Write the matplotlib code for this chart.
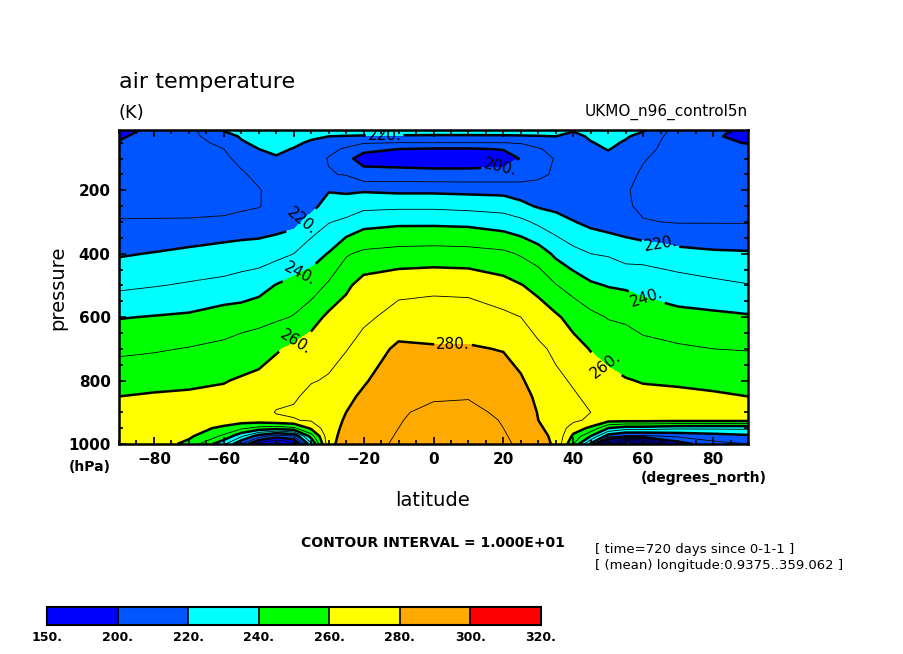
import numpy as np
import matplotlib
matplotlib.use('Agg')
import matplotlib.pyplot as plt

# zonal mean air temperature (K)
lats = [-90, -80, -70, -60, -55, -50, -45, -40, -35, -30, -25, -20, -10, 0,
        10, 20, 25, 30, 35, 40, 45, 50, 55, 60, 70, 80, 90]
plev = [10, 30, 50, 70, 100, 150, 200, 250, 300, 400, 500, 600, 700, 800,
        850, 900, 925, 950, 975, 1000]

# one column per latitude, top (10 hPa) to bottom (1000 hPa)
temp_cols = [
    [197, 199, 200.5, 203, 205, 206, 207, 208, 210.5, 219, 228, 239.5, 248, 256, 260, 263, 264, 265, 266, 267],  # -90
    [202, 203, 204, 205, 206, 207, 208, 209, 210.3, 220.5, 229.5, 240.5, 249, 257, 261, 264, 265, 266, 266, 266],  # -80
    [207, 207, 207, 207, 207, 207, 207.5, 208.5, 210.5, 222.5, 231, 241.5, 250.5, 258, 261.5, 264, 265, 264, 262, 257],  # -70
    [221, 216, 212, 210, 208.5, 208, 208, 208.5, 211, 225, 232, 245, 252, 259.5, 262, 264, 265, 258, 248, 232],  # -60
    [223, 221, 219, 215, 212, 209, 208.5, 209, 212, 226, 233, 246, 254, 261, 263.5, 265, 265, 252, 232, 210],  # -55
    [226, 224, 222, 220, 216, 212, 209.5, 209.5, 214.5, 225, 236, 247, 255.5, 262.5, 264.5, 266, 265.5, 247, 215, 185],  # -50
    [228, 226, 224, 222, 219, 215, 213, 213.5, 215.5, 227, 240.5, 248.5, 259, 265, 267.5, 270.5, 268, 245, 205, 175],  # -45
    [228, 225, 222, 219.5, 217, 214, 212.5, 213, 217, 230, 244, 250.5, 262, 268, 269, 271, 269.5, 248, 210, 185],  # -40
    [227, 222, 218.5, 216.5, 214, 213, 213.5, 217, 224, 236, 245, 256, 265, 269.5, 272, 274, 271, 262, 245, 228],  # -35
    [226, 220, 215, 212, 209.5, 210.5, 219.3, 224.5, 229.5, 240.5, 251.5, 262, 267.5, 270.7, 273.5, 275.5, 276, 276.5, 277, 277.5],  # -30
    [225, 219.5, 213, 209, 202, 209.5, 218.5, 225, 232, 249, 258, 265, 269.5, 275.5, 278, 280, 281, 282, 283, 284],  # -25
    [226, 219, 211, 202, 197, 203, 219, 227.5, 236.5, 252, 264, 268, 274, 279, 281.5, 284, 285, 286, 287, 287.5],  # -20
    [227, 218.5, 210, 200, 195.5, 203.5, 218, 228, 238, 253.5, 267, 273.5, 282, 286, 288, 289, 289.5, 290, 290.5, 291],  # -10
    [228, 218, 210, 199, 195, 203, 218, 228, 238, 254, 268, 274, 281, 286, 289, 292, 293, 294, 295, 296],  # 0
    [228, 218, 210, 199, 195, 203, 217.5, 227, 237.5, 253.5, 267.5, 274, 281, 286.5, 289.5, 292, 293, 293.5, 294, 294.5],  # 10
    [227, 218.5, 210, 200.5, 196, 203.5, 217, 226, 235, 252, 263.5, 272, 279.5, 284.5, 287, 288.5, 289.5, 290, 290.5, 291],  # 20
    [226, 219, 211, 204, 200.5, 205, 215.5, 222.5, 232.5, 249, 260.5, 270, 276.5, 281, 283.5, 285.5, 286.5, 287.5, 288.5, 289],  # 25
    [225, 219.5, 214, 209, 207, 208.5, 213, 219, 228, 245, 257, 265, 272, 276, 278, 279.5, 280, 281, 282, 282.5],  # 30
    [224, 220, 216.5, 213.5, 210.5, 211, 213, 217.5, 224, 238, 250.5, 261.5, 268, 272, 273.5, 275, 277, 277.5, 278.5, 279],  # 35
    [221, 217, 214.5, 213, 211.5, 211, 212, 215, 220.5, 233, 246, 256.5, 263.5, 269, 271, 273, 272, 265, 258, 250],  # 40
    [224, 221.5, 219.5, 217.5, 215, 213, 212.5, 213.5, 217.5, 230, 241.5, 252.5, 259.5, 265, 268, 270, 268, 258, 240, 218],  # 45
    [226, 224, 222, 220.5, 217, 213, 211, 211.5, 215.5, 229, 239.5, 249.5, 256, 263, 265.5, 267.5, 264, 240, 215, 162],  # 50
    [224, 221, 219, 217, 214.5, 212, 210.5, 211, 214.5, 226, 238.5, 248.5, 255, 260.5, 263, 265, 263.5, 235, 208, 140],  # 55
    [221, 217, 214.5, 212.5, 210.5, 209, 208.5, 208.5, 210.5, 226.5, 236.5, 246, 253, 259.5, 262, 264, 263.5, 235, 208, 148],  # 60
    [206, 205, 205, 206, 206.5, 207, 207.5, 208, 209.5, 223, 235, 242.5, 251.5, 259, 261.5, 263.5, 263, 232, 212, 195],  # 70
    [202, 201, 202, 204, 205.5, 206.5, 207, 208, 209.5, 221.5, 232.5, 242, 250, 258, 261, 263, 263, 232, 215, 207],  # 80
    [198, 197.5, 199.5, 202, 204.5, 206, 207, 208, 209.5, 221, 230.5, 241, 249.5, 257, 260, 262.5, 263, 232, 218, 210],  # 90
]

fill_levels = [150, 200, 220, 240, 260, 280, 300, 320]
fill_colors = ['#0000ff', '#0055ff', '#00ffff', '#00ff00', '#ffff00', '#ffaa00', '#ff0000']
thin_levels = [150, 160, 170, 180, 190, 210, 230, 250, 270, 290, 310]
thick_levels = [200, 220, 240, 260, 280]
label_spots = [(-14, 27), (19, 115), (-38, 295), (-38, 468), (-38.6, 694),
               (5.6, 682), (65, 364), (61, 537), (50.5, 735)]

temp = np.array(temp_cols).T

fig = plt.figure(figsize=(9.04, 6.54), dpi=100)
ax = fig.add_axes([119/904, 1 - 444/654, 629/904, 314/654])

cf = ax.contourf(lats, plev, temp, levels=fill_levels, colors=fill_colors)
ax.contour(lats, plev, temp, levels=thin_levels, colors='k', linewidths=0.6)
cs = ax.contour(lats, plev, temp, levels=thick_levels, colors='k', linewidths=1.8)
ax.clabel(cs, manual=label_spots, fmt='%d.', fontsize=11, inline=True, inline_spacing=2)

ax.set_xlim(-90, 90)
ax.set_ylim(1000, 10)
ax.set_xticks(range(-80, 81, 20))
ax.set_xticks(range(-90, 91, 5), minor=True)
ax.set_yticks([200, 400, 600, 800, 1000])
ax.set_yticks(range(50, 1001, 50), minor=True)
ax.tick_params(which='both', direction='in', top=True, right=True, width=1.2)
ax.tick_params(which='major', length=5, labelsize=11, pad=6)
ax.tick_params(which='minor', length=3)
for lab in ax.get_xticklabels() + ax.get_yticklabels():
    lab.set_fontweight('bold')
for sp in ax.spines.values():
    sp.set_linewidth(1.8)

fig.text(119/904, 1 - 82/654, 'air temperature', fontsize=16, va='center', ha='left')
fig.text(119/904, 1 - 113/654, '(K)', fontsize=13, va='center', ha='left')
fig.text(748/904, 1 - 112/654, 'UKMO_n96_control5n', fontsize=11, va='center', ha='right')
fig.text(58/904, 1 - 288/654, 'pressure', fontsize=14, rotation=90, va='center', ha='center')
fig.text(433/904, 1 - 500/654, 'latitude', fontsize=14, va='center', ha='center')
fig.text(90/904, 1 - 467/654, '(hPa)', fontsize=10, fontweight='bold', va='center', ha='center')
fig.text(704/904, 1 - 478/654, '(degrees_north)', fontsize=10, fontweight='bold', va='center', ha='center')
fig.text(433/904, 1 - 543/654, 'CONTOUR INTERVAL = 1.000E+01', fontsize=10, fontweight='bold',
         va='center', ha='center')
fig.text(595/904, 1 - 549/654, '[ time=720 days since 0-1-1 ]', fontsize=9.5, va='center', ha='left')
fig.text(595/904, 1 - 565/654, '[ (mean) longitude:0.9375..359.062 ]', fontsize=9.5,
         va='center', ha='left')

cax = fig.add_axes([47/904, 1 - 625/654, 494/904, 18/654])
cb = fig.colorbar(cf, cax=cax, orientation='horizontal', spacing='uniform', drawedges=True)
cb.set_ticks(fill_levels)
cb.set_ticklabels(['%d.' % v for v in fill_levels])
cb.ax.tick_params(length=0, labelsize=9, pad=4)
for lab in cb.ax.get_xticklabels():
    lab.set_fontweight('bold')
cb.outline.set_linewidth(1.5)
cb.dividers.set_linewidth(1.2)

fig.savefig('out.png', dpi=100)
